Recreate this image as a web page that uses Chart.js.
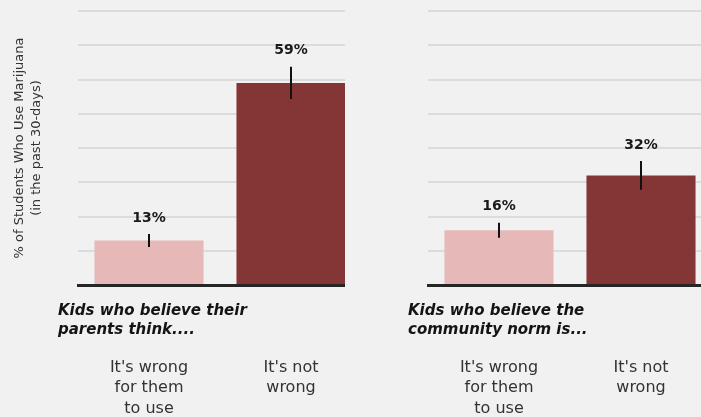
<!DOCTYPE html>
<html>
<head>
<meta charset="utf-8">
<script src="https://cdn.jsdelivr.net/npm/chart.js@4"></script>
<style>
  html, body { margin: 0; padding: 0; background: #f1f1f1; overflow: hidden; }
  #page { position: relative; width: 701px; height: 417px; background: #f1f1f1; }
  .panel { position: absolute; top: 0; height: 417px; overflow: hidden; background: #f1f1f1; }
  #leftPanel { left: 0; width: 345px; }
  #rightPanel { left: 345px; width: 356px; }
  canvas { display: block; }
</style>
</head>
<body>
<div id="page">
  <div class="panel" id="leftPanel"><canvas id="parentsChart" width="362" height="417"></canvas></div>
  <div class="panel" id="rightPanel"><canvas id="communityChart" width="367" height="417"></canvas></div>
</div>
<script>
// Answer categories shown under each pair of bars
const answerLabels = [["It's wrong", "for them", "to use"], ["It's not", "wrong"]];

// Group headings
const parentsHeading = ["Kids who believe their", "parents think...."];
const communityHeading = ["Kids who believe the", "community norm is..."];

// Percent of students using marijuana in the past 30 days
const parentsValues = [13, 59];
const parentsErrors = [1.9, 4.7];
const communityValues = [16, 32];
const communityErrors = [2.2, 4.2];

// Vertical axis
const yAxisTitle = ["% of Students Who Use Marijuana", "(in the past 30-days)"];
const yMin = 0;
const yMax = 80;
const yStep = 10;

const barColors = ['#e6b8b7', '#843636'];
const BASE_FONT = "'DejaVu Sans', Verdana, sans-serif";

// Draws the error whiskers, the percent labels and the group heading
const annotate = {
  id: 'annotate',
  afterDatasetsDraw(chart, args, opts) {
    const ctx = chart.ctx;
    const yScale = chart.scales.y;
    const meta = chart.getDatasetMeta(0);
    const values = chart.data.datasets[0].data;
    const errors = opts.errors;
    ctx.save();
    meta.data.forEach((bar, i) => {
      const v = values[i];
      const e = errors[i];
      const yHi = yScale.getPixelForValue(v + e);
      const yLo = yScale.getPixelForValue(v - e);
      ctx.strokeStyle = '#111111';
      ctx.lineWidth = 2;
      ctx.beginPath();
      ctx.moveTo(Math.round(bar.x), yHi);
      ctx.lineTo(Math.round(bar.x), yLo);
      ctx.stroke();

      ctx.fillStyle = '#1a1a1a';
      ctx.font = "bold 14px " + BASE_FONT;
      ctx.textAlign = 'center';
      ctx.textBaseline = 'middle';
      ctx.fillText(v + '%', bar.x, yHi - 16);
    });

    // heading block sits in the spacer band below the baseline
    const area = chart.chartArea;
    ctx.fillStyle = '#141414';
    ctx.font = "italic bold 15px " + BASE_FONT;
    ctx.textAlign = 'left';
    ctx.textBaseline = 'middle';
    opts.heading.forEach((line, k) => {
      ctx.fillText(line, area.left - 20, area.bottom + 26 + k * 19);
    });
    ctx.restore();
  }
};

function makeChart(canvasId, values, errors, heading, plotLeft, showTitle) {
  return new Chart(document.getElementById(canvasId), {
    type: 'bar',
    data: {
      labels: answerLabels,
      datasets: [{
        data: values,
        backgroundColor: barColors,
        borderWidth: 0,
        categoryPercentage: 1,
        barPercentage: 0.768,
        xAxisID: 'x'
      }]
    },
    options: {
      responsive: false,
      animation: false,
      layout: { padding: { top: 11, left: 0, right: 0, bottom: 0 } },
      plugins: {
        legend: { display: false },
        tooltip: { enabled: false },
        annotate: { errors: errors, heading: heading }
      },
      scales: {
        // band right under the bars: carries the baseline and leaves room for the heading
        band: {
          type: 'category',
          position: 'bottom',
          weight: 0,
          labels: answerLabels,
          offset: true,
          grid: { display: false, drawTicks: false },
          ticks: { display: false },
          border: { display: true, color: '#262626', width: 3 },
          afterFit(scale) { scale.height = 68; }
        },
        x: {
          position: 'bottom',
          weight: 1,
          offset: true,
          grid: { display: false, drawTicks: false },
          border: { display: false },
          ticks: {
            color: '#333333',
            padding: 4,
            maxRotation: 0,
            autoSkip: false,
            font: { family: BASE_FONT, size: 16, lineHeight: 1.3 }
          },
          afterFit(scale) { scale.height = 64; }
        },
        y: {
          min: yMin,
          max: yMax,
          ticks: { display: false, stepSize: yStep },
          grid: { color: '#dcdcdc', lineWidth: 2, drawTicks: false },
          border: { display: false },
          title: {
            display: showTitle,
            text: yAxisTitle,
            color: '#333333',
            padding: { top: 11, bottom: 0 },
            font: { family: BASE_FONT, size: 13, lineHeight: 1.3 }
          },
          afterFit(scale) { scale.width = plotLeft; }
        }
      }
    },
    plugins: [annotate]
  });
}

makeChart('parentsChart', parentsValues, parentsErrors, parentsHeading, 78, true);
makeChart('communityChart', communityValues, communityErrors, communityHeading, 83, false);
</script>
</body>
</html>
